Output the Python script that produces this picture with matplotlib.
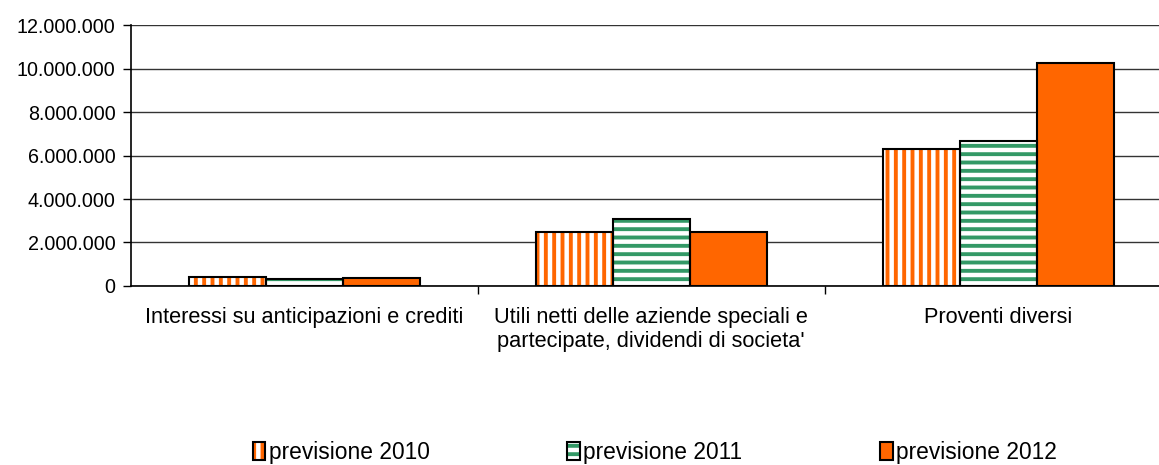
import numpy as np
import matplotlib
matplotlib.use("Agg")
import matplotlib.pyplot as plt
from matplotlib import ticker
from matplotlib.patches import Patch

plt.rcParams['font.family'] = ['Liberation Sans', 'DejaVu Sans']
plt.rcParams['hatch.linewidth'] = 2.8

categories = ["Interessi su anticipazioni e crediti",
              "Utili netti delle aziende speciali e\npartecipate, dividendi di societa'",
              "Proventi diversi"]
series = ["previsione 2010", "previsione 2011", "previsione 2012"]
prev_2010 = [420000, 2470000, 6290000]
prev_2011 = [340000, 3080000, 6680000]
prev_2012 = [360000, 2470000, 10280000]

orange = '#FF6600'
green = '#339966'

fig = plt.figure(figsize=(11.59, 4.65), dpi=100)
ax = fig.add_axes([0.1128, 0.385, 0.898, 0.561])

x = np.arange(len(categories))
w = 0.222
values = [prev_2010, prev_2011, prev_2012]
styles = [dict(face='white', hcol=orange, hatch='||'),
          dict(face='white', hcol=green, hatch='--'),
          dict(face=orange, hcol=orange, hatch=None)]

handles = []
for i, (vals, st) in enumerate(zip(values, styles)):
    pos = x + (i - 1) * w
    ax.bar(pos, vals, w, color=st['face'], edgecolor=st['hcol'], hatch=st['hatch'],
           linewidth=0, zorder=3)
    ax.bar(pos, vals, w, fill=False, edgecolor='black', linewidth=1.5, zorder=4)
    h1 = Patch(facecolor=st['face'], edgecolor=st['hcol'], hatch=st['hatch'], linewidth=0)
    h2 = Patch(fill=False, edgecolor='black', linewidth=1.5)
    handles.append((h1, h2))

ax.set_xlim(-0.5, 2.5)
ax.set_ylim(0, 12000000)
ax.yaxis.set_major_locator(ticker.MultipleLocator(2000000))
ax.yaxis.set_major_formatter(ticker.FuncFormatter(lambda v, p: f"{int(v):,}".replace(",", ".")))
ax.grid(axis='y', color='#333333', linewidth=1, zorder=0)

ax.set_xticks([0.5, 1.5])
ax.set_xticklabels([])
ax.set_xticks(x, minor=True)
ax.set_xticklabels(categories, minor=True)
ax.tick_params(axis='x', which='major', length=6, width=1, direction='out')
ax.tick_params(axis='x', which='minor', length=0, pad=15, labelsize=15.7)
ax.tick_params(axis='y', length=6, width=1, pad=5, labelsize=14.2)

ax.spines['top'].set_visible(False)
ax.spines['right'].set_visible(False)
for s in ['left', 'bottom']:
    ax.spines[s].set_linewidth(1.2)

fig.legend(handles, series, loc='center', bbox_to_anchor=(655 / 1159, 1 - 452 / 465),
           ncol=3, frameon=False, fontsize=16.4, handlelength=0.55, handleheight=0.85,
           handletextpad=0.15, columnspacing=6.05)

fig.savefig("out.png", dpi=100)
